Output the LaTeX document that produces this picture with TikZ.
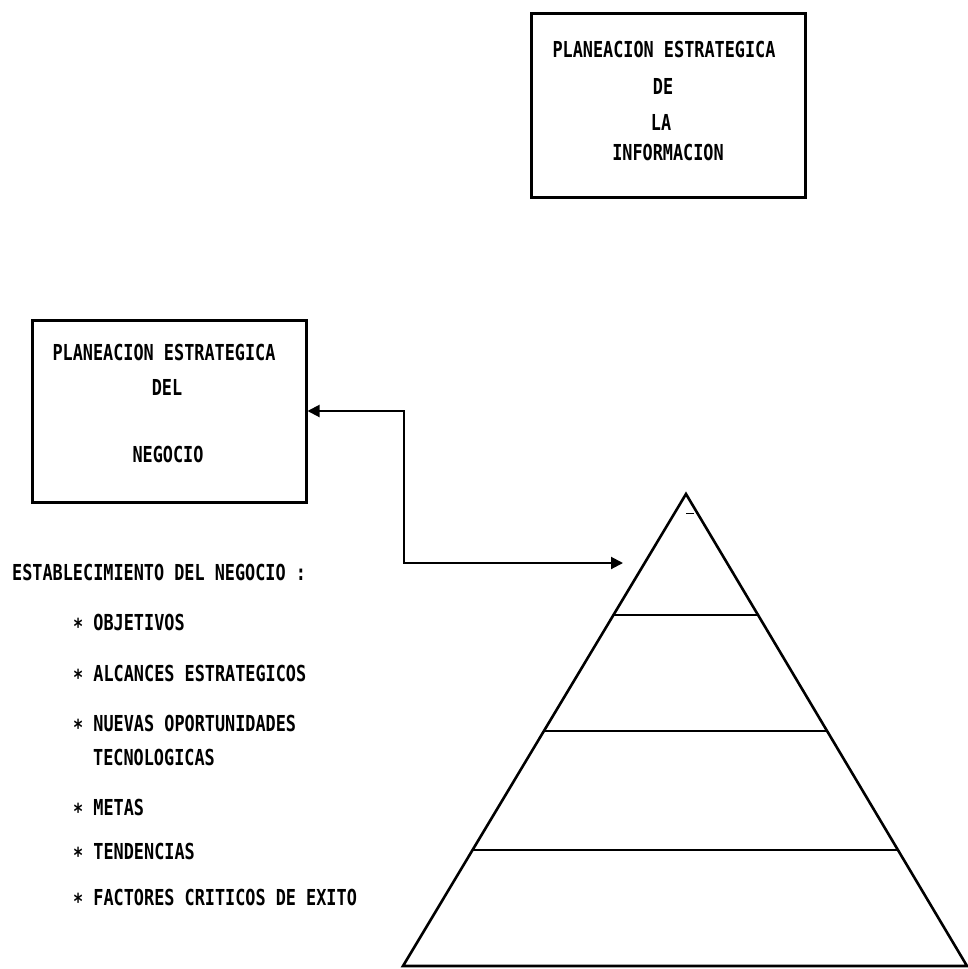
\documentclass[tikz,border=0pt]{standalone}
\usepackage{fontspec}
\newfontfamily\plotfont[FakeStretch=0.765]{DejaVu Sans Mono}
\usetikzlibrary{arrows.meta,calc}
% list bullet, set at mid-height of the capitals
\newcommand\itemstar{\raisebox{-4pt}{*}}
\begin{document}
\begin{tikzpicture}[x=1pt,y=-1pt,
  lbl/.style={font=\plotfont\bfseries\fontsize{22}{26}\selectfont, inner sep=0pt, anchor=base},
  item/.style={lbl, anchor=base west},
  frame/.style={draw, line width=3pt, inner sep=0pt},
  link/.style={line width=2pt, {Triangle[length=12pt,width=12pt]}-{Triangle[length=12pt,width=12pt]}},
  tier/.style={line width=2.2pt},
  edge/.style={line width=2.6pt, line join=miter}]
\useasboundingbox (0,0) rectangle (967,969);

% information planning box
\node[frame, minimum width=274pt, minimum height=184pt] (info) at (668,105) {};
\node[lbl] (i1) at (664,57) {PLANEACION ESTRATEGICA};
\node[lbl] (i2) at (663,94) {DE};
\node[lbl] (i3) at (661,130) {LA};
\node[lbl] (i4) at (668,160) {INFORMACION};

% business planning box
\node[frame, minimum width=274pt, minimum height=182pt] (neg) at (169,411) {};
\node[lbl] (n1) at (164,360) {PLANEACION ESTRATEGICA};
\node[lbl] (n2) at (167,395) {DEL};
\node[lbl] (n3) at (168,462) {NEGOCIO};

% list of business items
\node[item] (h0) at (12,580) {ESTABLECIMIENTO DEL NEGOCIO :};
\node[item] (h1) at (73,630) {\itemstar{} OBJETIVOS};
\node[item] (h2) at (73,681) {\itemstar{} ALCANCES ESTRATEGICOS};
\node[item] (h3) at (73,731) {\itemstar{} NUEVAS OPORTUNIDADES};
\node[item] (h3b) at (93,765) {TECNOLOGICAS};
\node[item] (h4) at (73,815) {\itemstar{} METAS};
\node[item] (h5) at (73,859) {\itemstar{} TENDENCIAS};
\node[item] (h6) at (73,905) {\itemstar{} FACTORES CRITICOS DE EXITO};

% pyramid
\coordinate (apex) at (686,494);
\coordinate (bl) at (403,966);
\coordinate (br) at (967,966);
\draw[edge] (bl) -- (apex) -- (br) -- cycle;
\draw[line width=1pt] (686,513) -- (694,513);
\foreach \t/\n in {0.2564/a,0.502/b,0.754/c}{
  \coordinate (L\n) at ($(apex)!\t!(bl)$);
  \coordinate (R\n) at ($(apex)!\t!(br)$);
  \draw[tier] (L\n) -- (R\n);
}

% link between business box and pyramid
\coordinate (k1) at (404,411);
\coordinate (k2) at (404,563);
\coordinate (tip) at (623,563);
\draw[link] (neg.east) -- (k1) -- (k2) -- (tip);
\end{tikzpicture}
\end{document}
